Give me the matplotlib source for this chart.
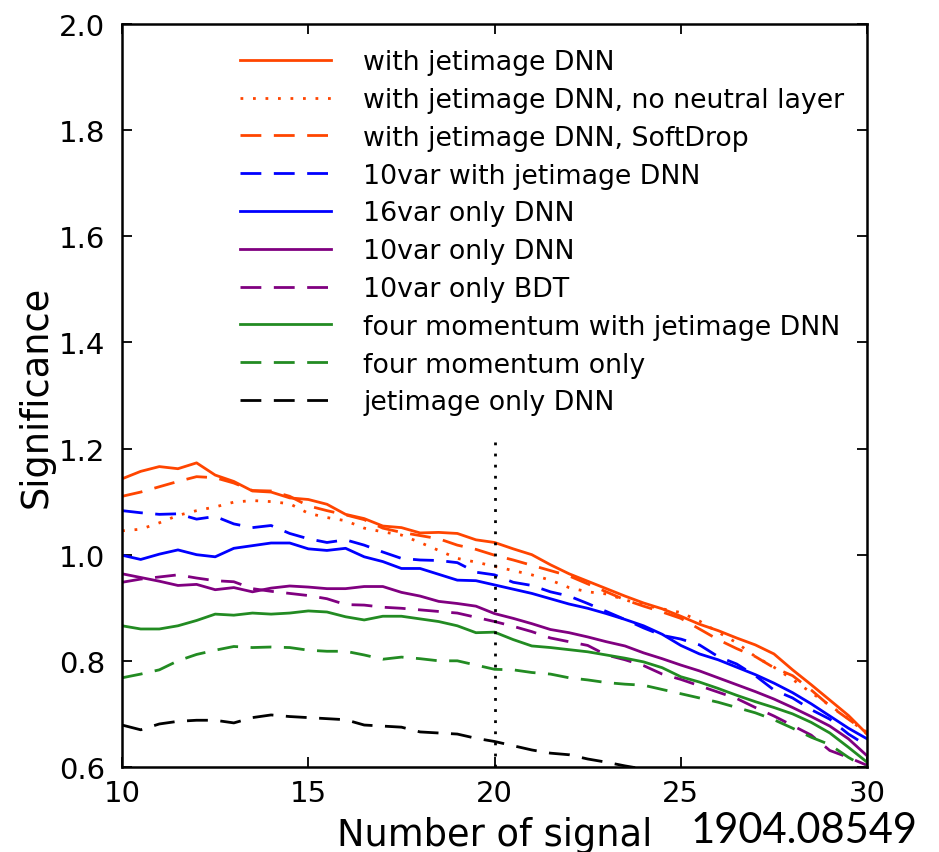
import numpy as np
import matplotlib
matplotlib.use("Agg")
import matplotlib.pyplot as plt

# signal counts, step 0.5 from 10 to 30
n_signal = np.arange(10, 30.01, 0.5)

sig_jetimage = [1.143, 1.157, 1.166, 1.162, 1.173, 1.150, 1.138, 1.120, 1.118, 1.107,
                1.104, 1.095, 1.076, 1.068, 1.054, 1.051, 1.041, 1.042, 1.040, 1.028,
                1.023, 1.011, 1.000, 0.981, 0.964, 0.950, 0.936, 0.922, 0.909, 0.898,
                0.884, 0.869, 0.857, 0.843, 0.830, 0.813, 0.783, 0.755, 0.726, 0.697, 0.662]
sig_no_neutral = [1.045, 1.048, 1.060, 1.074, 1.083, 1.090, 1.099, 1.102, 1.100, 1.096,
                  1.078, 1.070, 1.064, 1.050, 1.043, 1.037, 1.023, 1.008, 0.993, 0.986,
                  0.978, 0.970, 0.962, 0.952, 0.938, 0.930, 0.926, 0.915, 0.905, 0.898,
                  0.891, 0.875, 0.854, 0.834, 0.808, 0.788, 0.765, 0.740, 0.716, 0.691, 0.662]
sig_softdrop = [1.110, 1.118, 1.128, 1.138, 1.147, 1.145, 1.135, 1.121, 1.120, 1.110,
                1.092, 1.083, 1.075, 1.066, 1.050, 1.042, 1.036, 1.030, 1.018, 1.010,
                0.999, 0.990, 0.980, 0.970, 0.960, 0.945, 0.930, 0.915, 0.903, 0.892,
                0.880, 0.860, 0.840, 0.823, 0.808, 0.787, 0.772, 0.745, 0.715, 0.690, 0.665]
sig_10var_jet = [1.083, 1.079, 1.076, 1.077, 1.067, 1.072, 1.058, 1.051, 1.055, 1.040,
                 1.030, 1.023, 1.028, 1.018, 1.005, 0.993, 0.990, 0.989, 0.985, 0.967,
                 0.962, 0.948, 0.942, 0.930, 0.922, 0.908, 0.893, 0.878, 0.862, 0.848,
                 0.841, 0.830, 0.808, 0.794, 0.772, 0.745, 0.730, 0.708, 0.690, 0.662, 0.640]
sig_16var_dnn = [0.999, 0.991, 1.001, 1.009, 1.000, 0.996, 1.012, 1.017, 1.022, 1.022,
                 1.011, 1.008, 1.012, 0.996, 0.987, 0.974, 0.974, 0.963, 0.952, 0.951,
                 0.943, 0.935, 0.927, 0.917, 0.907, 0.899, 0.889, 0.878, 0.866, 0.850,
                 0.829, 0.813, 0.802, 0.788, 0.774, 0.758, 0.740, 0.719, 0.696, 0.673, 0.653]
sig_10var_dnn = [0.964, 0.957, 0.950, 0.942, 0.944, 0.934, 0.938, 0.930, 0.937, 0.941,
                 0.939, 0.936, 0.936, 0.940, 0.940, 0.929, 0.922, 0.912, 0.908, 0.903,
                 0.889, 0.880, 0.870, 0.859, 0.853, 0.845, 0.836, 0.828, 0.815, 0.804,
                 0.792, 0.781, 0.768, 0.755, 0.742, 0.728, 0.712, 0.695, 0.677, 0.653, 0.621]
sig_10var_bdt = [0.948, 0.954, 0.958, 0.962, 0.956, 0.951, 0.949, 0.936, 0.931, 0.927,
                 0.923, 0.917, 0.906, 0.905, 0.901, 0.899, 0.896, 0.893, 0.890, 0.882,
                 0.874, 0.865, 0.855, 0.843, 0.836, 0.829, 0.811, 0.802, 0.791, 0.775,
                 0.765, 0.753, 0.741, 0.729, 0.712, 0.696, 0.678, 0.660, 0.631, 0.618, 0.603]
sig_4mom_jet = [0.866, 0.860, 0.860, 0.866, 0.876, 0.888, 0.886, 0.890, 0.888, 0.890,
                0.894, 0.892, 0.883, 0.877, 0.884, 0.884, 0.879, 0.874, 0.866, 0.853,
                0.854, 0.840, 0.828, 0.825, 0.821, 0.817, 0.811, 0.805, 0.798, 0.787,
                0.770, 0.760, 0.748, 0.735, 0.723, 0.712, 0.700, 0.684, 0.664, 0.637, 0.609]
sig_4mom = [0.768, 0.775, 0.783, 0.800, 0.812, 0.820, 0.827, 0.825, 0.826, 0.825,
            0.820, 0.818, 0.818, 0.811, 0.803, 0.807, 0.804, 0.800, 0.800, 0.792,
            0.784, 0.783, 0.778, 0.775, 0.768, 0.764, 0.759, 0.756, 0.754, 0.746,
            0.738, 0.730, 0.722, 0.712, 0.702, 0.689, 0.673, 0.656, 0.642, 0.618, 0.598]
# jetimage only leaves the frame at about 24
sig_jet_only = [0.679, 0.670, 0.681, 0.686, 0.688, 0.688, 0.683, 0.693, 0.698, 0.695,
                0.693, 0.691, 0.689, 0.679, 0.677, 0.675, 0.666, 0.664, 0.662, 0.654,
                0.648, 0.640, 0.632, 0.626, 0.623, 0.615, 0.609, 0.602, 0.596]

orange = "#ff4500"
blue = "#0000ff"
purple = "#800080"
green = "#228b22"
dash = (7.5, 4.5)
dot = (1, 3.5)

curves = [
    (sig_jetimage, orange, None, "with jetimage DNN"),
    (sig_no_neutral, orange, dot, "with jetimage DNN, no neutral layer"),
    (sig_softdrop, orange, dash, "with jetimage DNN, SoftDrop"),
    (sig_10var_jet, blue, dash, "10var with jetimage DNN"),
    (sig_16var_dnn, blue, None, "16var only DNN"),
    (sig_10var_dnn, purple, None, "10var only DNN"),
    (sig_10var_bdt, purple, dash, "10var only BDT"),
    (sig_4mom_jet, green, None, "four momentum with jetimage DNN"),
    (sig_4mom, green, dash, "four momentum only"),
    (sig_jet_only, "black", dash, "jetimage only DNN"),
]

fig = plt.figure(figsize=(9.39, 8.53), dpi=100)
ax = fig.add_axes([0.130, 0.0997, 0.7934, 0.871])

for vals, col, ls, lab in curves:
    xs = n_signal[:len(vals)]
    if ls is None:
        ax.plot(xs, vals, color=col, lw=2, label=lab)
    else:
        ax.plot(xs, vals, color=col, lw=2, dashes=ls, label=lab)

# working point
ax.plot([20, 20], [0.6, 1.22], color="black", lw=2, dashes=(1, 3))

ax.set_xlim(10, 30)
ax.set_ylim(0.6, 2.0)
ax.set_xticks([10, 15, 20, 25, 30])
ax.set_yticks(np.arange(0.6, 2.01, 0.2))
ax.yaxis.set_major_formatter(matplotlib.ticker.FormatStrFormatter("%.1f"))
ax.tick_params(direction="in", length=7, width=1.3, top=True, right=True,
               labelsize=21)
ax.tick_params(axis="x", pad=9)
ax.tick_params(axis="y", pad=12)
for s in ax.spines.values():
    s.set_linewidth(1.8)

ax.set_xlabel("Number of signal", fontsize=26.5, labelpad=6)
ax.set_ylabel("Significance", fontsize=26.5, labelpad=3)

ax.legend(loc="upper left", bbox_to_anchor=(0.158, 0.966), frameon=False,
          fontsize=19.3, borderpad=0, borderaxespad=0, labelspacing=0.44,
          handlelength=3.4, handletextpad=1.2)

fig.text(0.735, 0.012, "1904.08549", fontsize=30, family="Lato",
         va="baseline", ha="left")

fig.savefig("out.png", dpi=100)
